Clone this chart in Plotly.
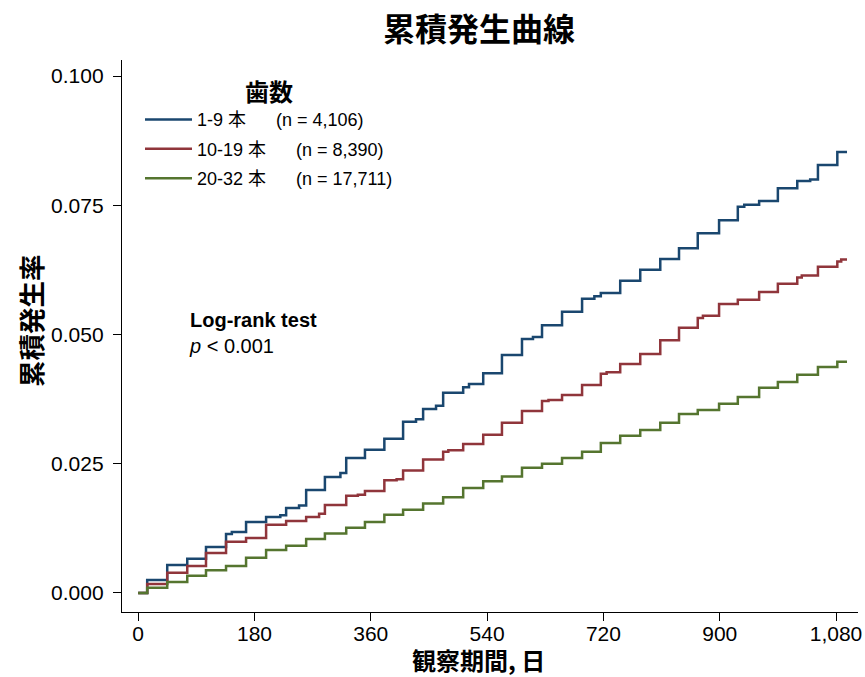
import plotly.graph_objects as go

# ---- data (days, cumulative incidence) ----
days_1_9 = [0, 14, 45, 76, 105, 136, 145, 167, 198, 220, 229, 249, 260, 289, 313, 322, 351, 381,
            410, 430, 441, 461, 472, 503, 512, 534, 563, 594, 611, 625, 656, 687, 706, 716, 746,
            777, 808, 837, 866, 899, 928, 938, 961, 990, 1020, 1040, 1052, 1082, 1097]
inc_1_9 = [0.0, 0.0025, 0.0054, 0.0066, 0.0089, 0.0114, 0.0118, 0.0137, 0.0147, 0.0150, 0.0164,
           0.0169, 0.0199, 0.0224, 0.0232, 0.0261, 0.0277, 0.0298, 0.0331, 0.0336, 0.0356, 0.0362,
           0.0387, 0.0398, 0.0404, 0.0425, 0.0460, 0.0491, 0.0495, 0.0518, 0.0544, 0.0569, 0.0574,
           0.0580, 0.0604, 0.0625, 0.0646, 0.0667, 0.0696, 0.0721, 0.0747, 0.0751, 0.0758, 0.0783,
           0.0797, 0.0800, 0.0828, 0.0853, 0.0853]

days_10_19 = [0, 14, 45, 76, 105, 136, 167, 198, 229, 260, 280, 289, 322, 340, 351, 381, 400, 410,
              441, 472, 480, 503, 534, 563, 594, 625, 635, 656, 687, 716, 725, 746, 777, 808, 837,
              866, 874, 899, 928, 961, 990, 1020, 1027, 1052, 1082, 1088, 1097]
inc_10_19 = [0.0, 0.0017, 0.0039, 0.0052, 0.0077, 0.0099, 0.0106, 0.0132, 0.0139, 0.0147, 0.0153,
             0.0170, 0.0188, 0.0190, 0.0197, 0.0218, 0.0220, 0.0237, 0.0258, 0.0273, 0.0276, 0.0288,
             0.0306, 0.0329, 0.0352, 0.0371, 0.0373, 0.0383, 0.0402, 0.0424, 0.0427, 0.0443, 0.0462,
             0.0489, 0.0513, 0.0532, 0.0536, 0.0559, 0.0567, 0.0582, 0.0598, 0.0610, 0.0614, 0.0631,
             0.0641, 0.0645, 0.0645]

days_20_32 = [0, 14, 45, 76, 105, 136, 167, 198, 229, 260, 289, 322, 351, 381, 410, 441, 472, 503,
              534, 563, 594, 625, 656, 687, 716, 746, 777, 808, 837, 866, 899, 928, 961, 990, 1020,
              1052, 1082, 1097]
inc_20_32 = [0.0, 0.0010, 0.0021, 0.0033, 0.0044, 0.0052, 0.0068, 0.0083, 0.0091, 0.0104, 0.0115,
             0.0126, 0.0137, 0.0151, 0.0161, 0.0173, 0.0185, 0.0203, 0.0216, 0.0225, 0.0242, 0.0250,
             0.0261, 0.0273, 0.0290, 0.0304, 0.0315, 0.0329, 0.0346, 0.0354, 0.0366, 0.0379, 0.0397,
             0.0408, 0.0422, 0.0437, 0.0447, 0.0447]

NB = "\u00a0"
series_names = ["1-9 本" + NB * 6 + "(n = 4,106)",
                "10-19 本" + NB * 6 + "(n = 8,390)",
                "20-32 本" + NB * 6 + "(n = 17,711)"]
series_colors = ["#1a476f", "#90353b", "#55752f"]

x_tickvals = [0, 180, 360, 540, 720, 900, 1080]
x_ticktext = ["0", "180", "360", "540", "720", "900", "1,080"]
y_tickvals = [0.0, 0.025, 0.05, 0.075, 0.1]
y_ticktext = ["0.000", "0.025", "0.050", "0.075", "0.100"]

LAT = "Liberation Sans, Arial, Noto Sans CJK JP, sans-serif"
CJK = "Noto Sans CJK JP, Liberation Sans, sans-serif"

W, H = 865, 677
L, R, T, B = 122, 7, 60, 65
PW, PH = W - L - R, H - T - B


def px_x(sx):  # screen x -> paper x
    return (sx - L) / PW


def px_y(sy):  # screen y -> paper y
    return (H - B - sy) / PH


fig = go.Figure()
for i, (xd, yd) in enumerate([(days_1_9, inc_1_9), (days_10_19, inc_10_19), (days_20_32, inc_20_32)]):
    fig.add_trace(go.Scatter(x=xd, y=yd, mode="lines", line_shape="hv",
                             line=dict(color=series_colors[i], width=2.5),
                             name=series_names[i], legendgroup=f"g{i}"))

fig.update_layout(
    width=W, height=H,
    margin=dict(l=L, r=R, t=T, b=B, autoexpand=False),
    plot_bgcolor="white", paper_bgcolor="white",
    title=dict(text="<b>累積発生曲線</b>", font=dict(family=CJK, size=32, color="black"),
               x=479 / W, xref="container", xanchor="center",
               y=1 - 30 / H, yref="container", yanchor="middle"),
    showlegend=True,
    legend=dict(x=px_x(140), y=px_y(70), xanchor="left", yanchor="top",
                bgcolor="rgba(0,0,0,0)", font=dict(family=LAT, size=18, color="black"),
                title=dict(text="<b>歯数</b>", side="top center",
                           font=dict(family=CJK, size=24, color="black")),
                tracegroupgap=3, itemwidth=47),
    xaxis=dict(range=[-25, 1114], tickvals=x_tickvals, ticktext=x_ticktext, automargin=False,
               showline=True, linecolor="black", linewidth=1.3, mirror=False,
               ticks="outside", ticklen=8, tickwidth=1.3, tickcolor="black",
               showgrid=False, zeroline=False, ticklabelstandoff=-5,
               tickfont=dict(family=LAT, size=21, color="black")),
    yaxis=dict(range=[-0.0037, 0.1031], tickvals=y_tickvals, ticktext=y_ticktext, automargin=False,
               showline=True, linecolor="black", linewidth=1.3, mirror=False,
               ticks="outside", ticklen=8, tickwidth=1.3, tickcolor="black",
               showgrid=False, zeroline=False, ticklabelstandoff=5,
               tickfont=dict(family=LAT, size=21, color="black")),
    annotations=[
        dict(text="<b>Log-rank test</b><br><i>p</i> < 0.001", x=76, y=0.0553,
             xref="x", yref="y", xanchor="left", yanchor="top", align="left",
             showarrow=False, font=dict(family=LAT, size=20, color="black")),
        dict(text="<b>観察期間, 日</b>", x=px_x(478), y=px_y(659),
             xref="paper", yref="paper", showarrow=False, xanchor="center", yanchor="middle",
             font=dict(family=CJK, size=24, color="black")),
        dict(text="<b>累積発生率</b>", x=px_x(30), y=px_y(321), textangle=-90,
             xref="paper", yref="paper", showarrow=False, xanchor="center", yanchor="middle",
             font=dict(family=CJK, size=26.5, color="black")),
    ],
)

fig.write_html("out.html", config={"displayModeBar": False},
               post_script="document.body.style.margin='0';document.body.style.overflow='hidden';")
